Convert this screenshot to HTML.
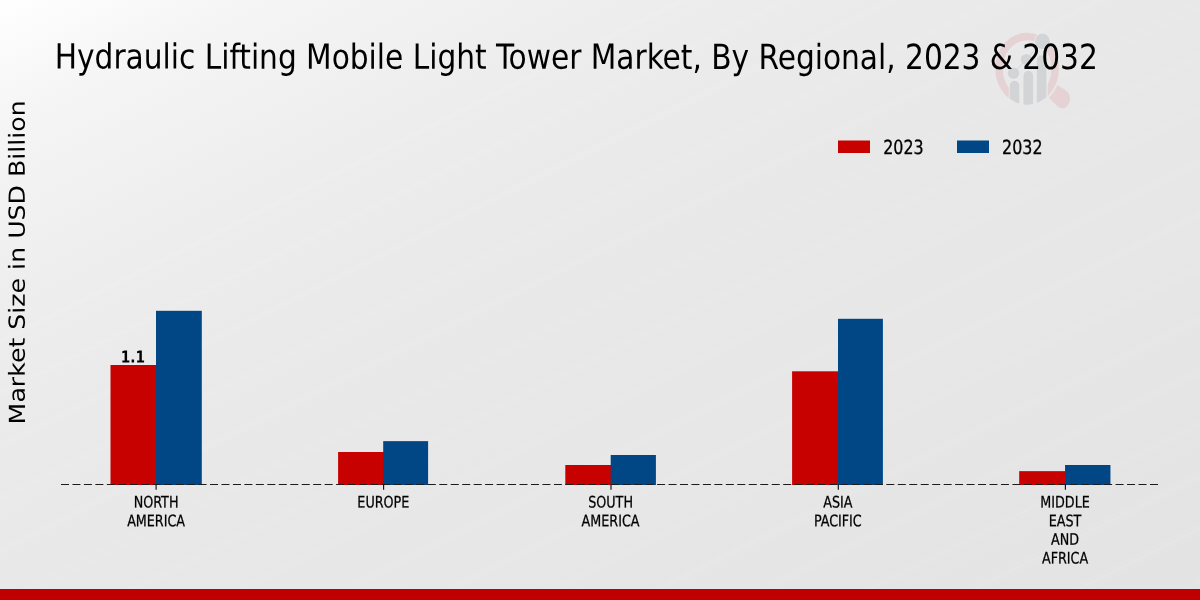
<!DOCTYPE html>
<html lang="en">
<head>
<meta charset="utf-8">
<title>Hydraulic Lifting Mobile Light Tower Market, By Regional, 2023 &amp; 2032</title>
<style>
html, body { margin: 0; padding: 0; }
body { width: 1200px; height: 600px; overflow: hidden; background: #e7e7e7; }
svg { display: block; }
text { fill: #000; }
.title { font-family: "DejaVu Sans Condensed", "DejaVu Sans", "Liberation Sans", sans-serif; font-stretch: condensed; font-size: 34.6px; }
.tick { font-family: "DejaVu Sans Condensed", "DejaVu Sans", "Liberation Sans", sans-serif; font-stretch: condensed; font-size: 15.85px; stroke: #000; stroke-width: 0.25px; }
.leg { font-family: "DejaVu Sans Condensed", "DejaVu Sans", "Liberation Sans", sans-serif; font-stretch: condensed; font-size: 19.45px; stroke: #000; stroke-width: 0.3px; }
.ylab { font-family: "DejaVu Sans", "Liberation Sans", sans-serif; font-size: 22.2px; }
.val { font-family: "DejaVu Sans Condensed", "DejaVu Sans", "Liberation Sans", sans-serif; font-stretch: condensed; font-weight: bold; font-size: 16.4px; }
</style>
</head>
<body>
<svg width="1200" height="600" viewBox="0 0 1200 600">
<defs>
<linearGradient id="bg" gradientUnits="userSpaceOnUse" x1="0" y1="0" x2="480" y2="960">
<stop offset="0" stop-color="#ffffff"/>
<stop offset="0.053" stop-color="#fafafa"/>
<stop offset="0.103" stop-color="#f5f5f5"/>
<stop offset="0.17" stop-color="#f2f2f2"/>
<stop offset="0.25" stop-color="#eeeeee"/>
<stop offset="0.345" stop-color="#ebebeb"/>
<stop offset="0.5" stop-color="#e8e8e8"/>
<stop offset="0.667" stop-color="#e7e7e7"/>
<stop offset="0.81" stop-color="#e5e5e5"/>
<stop offset="1" stop-color="#e3e3e3"/>
</linearGradient>
<linearGradient id="stripes" gradientUnits="userSpaceOnUse" x1="0" y1="0" x2="21" y2="42" spreadMethod="repeat">
<stop offset="0" stop-color="#fff" stop-opacity="0"/>
<stop offset="0.3" stop-color="#fff" stop-opacity="0"/>
<stop offset="0.5" stop-color="#fff" stop-opacity="0.08"/>
<stop offset="0.7" stop-color="#fff" stop-opacity="0"/>
<stop offset="1" stop-color="#fff" stop-opacity="0"/>
</linearGradient>
<linearGradient id="stripefade" gradientUnits="userSpaceOnUse" x1="0" y1="0" x2="480" y2="960">
<stop offset="0" stop-color="#fff" stop-opacity="0"/>
<stop offset="0.12" stop-color="#fff" stop-opacity="0"/>
<stop offset="0.3" stop-color="#fff" stop-opacity="1"/>
<stop offset="1" stop-color="#fff" stop-opacity="1"/>
</linearGradient>
<mask id="stripemask" maskUnits="userSpaceOnUse" x="0" y="0" width="1200" height="600"><rect x="0" y="0" width="1200" height="600" fill="url(#stripefade)"/></mask>
</defs>
<rect x="0" y="0" width="1200" height="600" fill="url(#bg)"/>
<rect x="0" y="0" width="1200" height="600" fill="url(#stripes)" mask="url(#stripemask)"/>

<!-- watermark logo -->
<g id="logo">
<clipPath id="lens"><ellipse cx="1027.1" cy="68.7" rx="31.8" ry="35.9"/></clipPath>
<clipPath id="ringclip"><path d="M985,20 H1080 V120 H1047.5 V74 H1009.2 V120 H985 Z"/></clipPath>
<ellipse cx="1027.1" cy="68.7" rx="28.1" ry="32.2" fill="none" stroke="#e5d2d4" stroke-width="7.4" clip-path="url(#ringclip)"/>
<path d="M1057.4,85 L1066.2,90.8 C1069.5,93 1070.6,97.5 1069.6,101.5 C1068.4,106 1065.5,108.8 1062.6,108.4 C1060.5,108.2 1058.8,107.5 1057.5,106.3 L1049,97.9 A33.1,37.5 0 0 0 1057.4,85 Z" fill="#e5d2d4"/>
<g clip-path="url(#lens)" fill="#d3d4d6" stroke="#ececec" stroke-width="1.6">
<rect x="1009.6" y="80.8" width="9.8" height="30" rx="4.9"/>
<rect x="1023.4" y="70.8" width="9.8" height="40" rx="4.9"/>
<rect x="1036.7" y="55.2" width="9.8" height="60" rx="4.9"/>
</g>
<g fill="#d3d4d6" stroke="#ececec" stroke-width="1.6">
<circle cx="1013.5" cy="73.2" r="5.8"/>
<circle cx="1026.3" cy="59.5" r="5.6"/>
<ellipse cx="1042.4" cy="41.2" rx="7.3" ry="7.7"/>
</g>
<polyline points="1013.5,73.2 1026.3,59.5 1042.4,41.2" fill="none" stroke="#d6d7d9" stroke-width="1"/>
<g clip-path="url(#lens)" fill="#d3d4d6">
<rect x="1009.6" y="80.8" width="9.8" height="30" rx="4.9"/>
<rect x="1023.4" y="70.8" width="9.8" height="40" rx="4.9"/>
<rect x="1036.7" y="55.2" width="9.8" height="60" rx="4.9"/>
</g>
<g fill="#d3d4d6">
<circle cx="1013.5" cy="73.2" r="5.8"/>
<circle cx="1026.3" cy="59.5" r="5.6"/>
<ellipse cx="1042.4" cy="41.2" rx="7.3" ry="7.7"/>
</g>
</g>

<text id="title" transform="translate(54.8,68.55) rotate(0.03) scale(0.9524,1)" class="title">Hydraulic Lifting Mobile Light Tower Market, By Regional, 2023 &amp; 2032</text>
<text id="ylab" transform="translate(24.8,262.3) rotate(-90.03) scale(1.137,1)" text-anchor="middle" class="ylab">Market Size in USD Billion</text>

<rect x="838" y="140.5" width="32" height="12.5" fill="#c70000"/>
<text id="leg1" transform="translate(883.2,153.95) rotate(0.03) scale(0.908,1)" class="leg">2023</text>
<rect x="957" y="140.5" width="32" height="12.5" fill="#014786"/>
<text id="leg2" transform="translate(1002.1,153.95) rotate(0.03) scale(0.908,1)" class="leg">2032</text>

<rect x="110.50" y="365.00" width="46.50" height="120.00" fill="#c70000"/>
<rect x="156.00" y="310.80" width="45.80" height="174.20" fill="#014786"/>
<rect x="338.10" y="452.00" width="46.10" height="33.00" fill="#c70000"/>
<rect x="383.20" y="441.15" width="44.90" height="43.85" fill="#014786"/>
<rect x="565.30" y="465.00" width="46.40" height="20.00" fill="#c70000"/>
<rect x="610.70" y="455.00" width="45.20" height="30.00" fill="#014786"/>
<rect x="792.10" y="371.30" width="46.90" height="113.70" fill="#c70000"/>
<rect x="838.00" y="318.80" width="44.90" height="166.20" fill="#014786"/>
<rect x="1019.20" y="471.15" width="46.85" height="13.85" fill="#c70000"/>
<rect x="1065.05" y="465.00" width="45.40" height="20.00" fill="#014786"/>
<text id="val" transform="translate(132.9,362.45) rotate(0.03) scale(0.93,1)" text-anchor="middle" class="val">1.1</text>
<line x1="61.0" y1="484.5" x2="1158.3" y2="484.5" stroke="#1c1c1c" stroke-width="1" stroke-dasharray="8 3.463"/>
<line x1="156.10" y1="484.50" x2="156.10" y2="489.80" stroke="#111" stroke-width="1.15"/>
<line x1="383.60" y1="484.50" x2="383.60" y2="489.80" stroke="#111" stroke-width="1.15"/>
<line x1="611.00" y1="484.50" x2="611.00" y2="489.80" stroke="#111" stroke-width="1.15"/>
<line x1="838.30" y1="484.50" x2="838.30" y2="489.80" stroke="#111" stroke-width="1.15"/>
<line x1="1065.40" y1="484.50" x2="1065.40" y2="489.80" stroke="#111" stroke-width="1.15"/>
<text transform="translate(156.10,507.45) rotate(0.03) scale(0.894,1)" text-anchor="middle" class="tick">NORTH</text>
<text transform="translate(156.10,526.15) rotate(0.03) scale(0.894,1)" text-anchor="middle" class="tick">AMERICA</text>
<text transform="translate(383.34,507.45) rotate(0.03) scale(0.894,1)" text-anchor="middle" class="tick">EUROPE</text>
<text transform="translate(610.58,507.45) rotate(0.03) scale(0.894,1)" text-anchor="middle" class="tick">SOUTH</text>
<text transform="translate(610.58,526.15) rotate(0.03) scale(0.894,1)" text-anchor="middle" class="tick">AMERICA</text>
<text transform="translate(837.82,507.45) rotate(0.03) scale(0.894,1)" text-anchor="middle" class="tick">ASIA</text>
<text transform="translate(837.82,526.15) rotate(0.03) scale(0.894,1)" text-anchor="middle" class="tick">PACIFIC</text>
<text transform="translate(1065.06,507.45) rotate(0.03) scale(0.894,1)" text-anchor="middle" class="tick">MIDDLE</text>
<text transform="translate(1065.06,526.15) rotate(0.03) scale(0.894,1)" text-anchor="middle" class="tick">EAST</text>
<text transform="translate(1065.06,544.85) rotate(0.03) scale(0.894,1)" text-anchor="middle" class="tick">AND</text>
<text transform="translate(1065.06,563.55) rotate(0.03) scale(0.894,1)" text-anchor="middle" class="tick">AFRICA</text>
<rect x="0" y="589" width="1200" height="11" fill="#c00000"/>
</svg>
</body>
</html>
